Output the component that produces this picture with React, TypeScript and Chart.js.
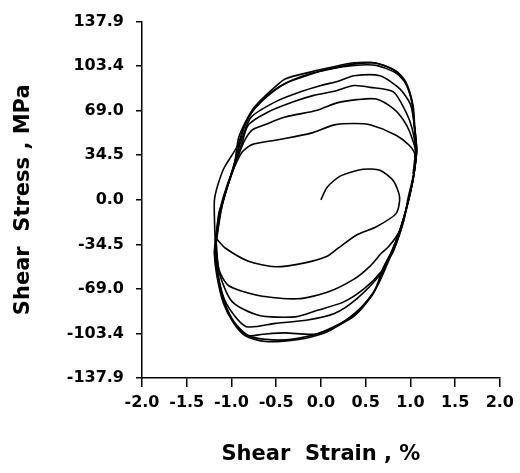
import { useEffect, useRef } from "react";
import { Chart, registerables } from "chart.js";

Chart.register(...registerables);

// Axis tick positions
const strainTicks = [-2.0, -1.5, -1.0, -0.5, 0.0, 0.5, 1.0, 1.5, 2.0];
const stressTicks = [-137.9, -103.4, -69.0, -34.5, 0.0, 34.5, 69.0, 103.4, 137.9];

// Hysteresis path, one array per cycle: [shear strain (%), shear stress (MPa)]
const initialCycle = [
  [0, 0], [0.07, 9.8], [0.22, 18.5], [0.47, 23.6], [0.66, 22.9], [0.81, 14.7],
  [0.88, 2], [0.84, -10.7], [0.62, -20.8], [0.4, -27.2], [0.2, -37], [0.07, -43.7],
  [-0.18, -48.8], [-0.51, -51.8], [-0.81, -47.5], [-1.07, -37.3], [-1.17, -30],
];

const cycle1 = [
  [-1.17, -30], [-1.13, -12], [-1.09, 0], [-1.03, 14], [-0.97, 25], [-0.88, 37],
  [-0.77, 42.7], [-0.48, 46.5], [-0.11, 51.6], [0.15, 58], [0.37, 59], [0.55, 58],
  [0.84, 50], [0.99, 42], [1.05, 35], [1.04, 20], [0.98, 0], [0.88, -24],
  [0.76, -36], [0.68, -41], [0.55, -51.3], [0.37, -61.4], [0.07, -71.6],
  [-0.26, -76.6], [-0.7, -74], [-1.03, -66.5], [-1.14, -54], [-1.17, -33],
];

const cycle2 = [
  [-1.17, -33], [-1.12, -10], [-1.08, 2], [-1.02, 15], [-0.96, 27], [-0.86, 45],
  [-0.77, 54], [-0.63, 58], [-0.4, 64], [-0.04, 69.3], [0.18, 75], [0.4, 77.5],
  [0.62, 78], [0.81, 70.6], [0.92, 62], [0.99, 53], [1.06, 37], [1.04, 20],
  [0.98, 0], [0.89, -22], [0.78, -42], [0.68, -55], [0.48, -69], [0.25, -79.2],
  [-0.04, -85.5], [-0.29, -90.6], [-0.7, -89.3], [-0.99, -79], [-1.13, -58],
  [-1.18, -34],
];

const cycle3 = [
  [-1.18, -34], [-1.13, -10], [-1.09, 0], [-1.02, 16], [-0.96, 28], [-0.89, 42],
  [-0.81, 58], [-0.59, 68], [-0.3, 76], [-0.08, 80.8], [0.15, 84], [0.37, 88.4],
  [0.55, 87], [0.81, 83.5], [0.95, 68], [1.02, 55], [1.06, 38], [1.04, 20],
  [0.98, 0], [0.89, -22], [0.77, -44], [0.66, -58], [0.4, -76.6], [0.15, -88],
  [-0.15, -93], [-0.51, -95.6], [-0.84, -98], [-1.06, -80], [-1.15, -58],
  [-1.18, -33],
];

const cycle4 = [
  [-1.18, -33], [-1.14, -10], [-1.09, 0], [-1.02, 16], [-0.96, 30], [-0.88, 48],
  [-0.78, 64], [-0.51, 75.8], [-0.25, 83], [0, 88.4], [0.2, 92], [0.37, 96],
  [0.66, 96], [0.88, 86], [1.0, 74], [1.04, 60], [1.07, 40], [1.04, 20],
  [0.98, 0], [0.9, -20], [0.79, -40], [0.7, -52], [0.59, -71.6], [0.37, -89],
  [0.15, -98], [-0.07, -104], [-0.4, -103], [-0.65, -104], [-0.81, -105],
  [-0.97, -94.5], [-1.08, -79], [-1.15, -59], [-1.18, -35],
];

const cycle5 = [
  [-1.18, -35], [-1.19, -15], [-1.19, 0], [-1.15, 12], [-1.08, 25], [-0.93, 42],
  [-0.84, 60], [-0.74, 70.6], [-0.55, 83.5], [-0.37, 91], [-0.11, 97.3],
  [0.07, 101], [0.37, 104], [0.62, 104], [0.84, 98], [0.95, 90], [1.02, 75],
  [1.04, 60], [1.07, 38], [1.04, 20], [0.98, 0], [0.91, -20], [0.81, -40],
  [0.73, -49], [0.59, -72], [0.37, -90], [0.04, -102], [-0.33, -108],
  [-0.62, -108], [-0.83, -104.6], [-0.97, -95], [-1.08, -79], [-1.15, -59],
  [-1.19, -41], [-1.18, -32],
];

const cycle6 = [
  [-1.18, -32], [-1.14, -12], [-1.1, 0], [-1.03, 15], [-0.97, 26], [-0.92, 48],
  [-0.83, 62], [-0.74, 72], [-0.55, 85], [-0.4, 93.5], [-0.11, 99], [0.18, 103.5],
  [0.37, 106], [0.62, 105.7], [0.84, 99.7], [0.95, 91], [1.03, 73], [1.05, 55],
  [1.07, 37], [1.03, 18], [0.97, 0], [0.93, -15], [0.86, -30], [0.74, -50],
  [0.62, -68], [0.44, -84], [0.18, -98], [0.04, -103], [-0.25, -108],
  [-0.62, -109.7], [-0.85, -105], [-0.98, -95], [-1.09, -80], [-1.16, -60],
  [-1.19, -42], [-1.17, -30],
];

const cycle7 = [
  [-1.17, -30], [-1.12, -8], [-1.08, 3], [-1.01, 18], [-0.95, 32], [-0.88, 52],
  [-0.77, 68], [-0.6, 80], [-0.4, 90], [-0.15, 97], [0.1, 101], [0.36, 105],
  [0.6, 106], [0.8, 101], [0.93, 92], [1.01, 78], [1.04, 60], [1.06, 40],
  [1.03, 20],
];

const cycles = [initialCycle, cycle1, cycle2, cycle3, cycle4, cycle5, cycle6, cycle7];

const FONT = "'DejaVu Sans', 'Liberation Sans', Arial, sans-serif";

export default function App() {
  const canvasRef = useRef<HTMLCanvasElement>(null);

  useEffect(() => {
    document.body.style.margin = "0";
    const canvas = canvasRef.current;
    if (!canvas) return;

    const chart = new Chart(canvas, {
      type: "scatter",
      data: {
        datasets: cycles.map((c) => ({
          data: c.map(([x, y]) => ({ x, y })),
          showLine: true,
          borderColor: "#000",
          borderWidth: 1.6,
          pointRadius: 0,
          tension: 0.25,
          fill: false,
        })),
      },
      options: {
        responsive: false,
        animation: false,
        layout: { padding: { top: 15, right: 15, left: 0, bottom: 0 } },
        plugins: {
          legend: { display: false },
          tooltip: { enabled: false },
        },
        scales: {
          x: {
            type: "linear",
            min: -2,
            max: 2,
            afterBuildTicks: (s: any) => {
              s.ticks = strainTicks.map((v) => ({ value: v }));
            },
            afterFit: (s: any) => {
              s.height = 95;
            },
            ticks: {
              autoSkip: false,
              maxRotation: 0,
              padding: 6,
              color: "#000",
              font: { family: FONT, size: 16, weight: "bold" },
              callback: (v: any) => Number(v).toFixed(1),
            },
            grid: {
              drawOnChartArea: false,
              drawTicks: true,
              tickLength: 9,
              color: "#000",
              lineWidth: 1.5,
            },
            border: { display: true, color: "#000", width: 1.5 },
            title: {
              display: true,
              text: "Shear  Strain , %",
              color: "#000",
              font: { family: FONT, size: 21, weight: "bold" },
              padding: { top: 0, bottom: 6 },
            },
          },
          y: {
            type: "linear",
            min: -137.9,
            max: 137.9,
            afterBuildTicks: (s: any) => {
              s.ticks = stressTicks.map((v) => ({ value: v }));
            },
            afterFit: (s: any) => {
              s.width = 142;
            },
            ticks: {
              autoSkip: false,
              padding: 12,
              color: "#000",
              font: { family: FONT, size: 16, weight: "bold" },
              callback: (v: any) => Number(v).toFixed(1),
            },
            grid: {
              drawOnChartArea: false,
              drawTicks: true,
              tickLength: 6,
              color: "#000",
              lineWidth: 1.5,
            },
            border: { display: true, color: "#000", width: 1.5 },
            title: {
              display: true,
              text: "Shear  Stress , MPa",
              color: "#000",
              font: { family: FONT, size: 21, weight: "bold" },
              padding: { top: 11, bottom: 0 },
            },
          },
        },
      },
    });

    return () => chart.destroy();
  }, []);

  return (
    <div style={{ width: 520, height: 473 }}>
      <canvas ref={canvasRef} width={520} height={473} style={{ display: "block" }} />
    </div>
  );
}
